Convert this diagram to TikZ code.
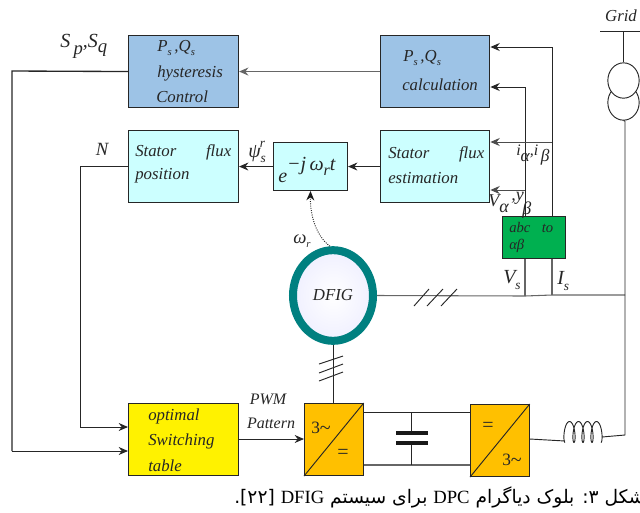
\documentclass[tikz,border=0pt]{standalone}
\usepackage{fontspec}
\setmainfont{Liberation Serif}
\newfontfamily\arabicfont[Script=Arabic]{DejaVu Sans}
\TeXXeTstate=1
\usetikzlibrary{arrows.meta,shapes.geometric}
\definecolor{cblue}{RGB}{157,195,230}
\definecolor{ccyan}{RGB}{204,255,255}
\definecolor{cgreen}{RGB}{0,176,80}
\definecolor{corange}{RGB}{255,192,0}
\definecolor{cteal}{RGB}{0,128,128}
\newcommand{\dn}[1]{\raisebox{-0.45ex}{\footnotesize #1}}
\newcommand{\dnn}[1]{\raisebox{-0.75ex}{\normalsize #1}}
\tikzset{
  bx/.style={draw=black!85,line width=0.8pt,inner sep=0pt,anchor=north west},
  wire/.style={draw=black!85,line width=0.7pt},
  grayw/.style={draw=black!60,line width=1pt},
  arr/.style={wire,-{Stealth[length=7pt,width=6pt]}},
  lb/.style={inner sep=0pt,font=\fontsize{12.6}{14}\selectfont\itshape,text=black!85},
  lbl/.style={lb,anchor=west},
  lbr/.style={lb,anchor=east}
}
\begin{document}
\begin{tikzpicture}[x=0.75pt,y=-0.75pt]
\useasboundingbox (0,0) rectangle (640,512);
\clip (0,0) rectangle (640,512);
% boxes
\node[bx,fill=cblue,minimum width=82.5pt,minimum height=54pt] (hyst) at (128,35) {};
\node[bx,fill=cblue,minimum width=82pt,minimum height=54pt] (calc) at (380,35) {};
\node[bx,fill=ccyan,minimum width=82.5pt,minimum height=54pt] (pos) at (128,130) {};
\node[bx,fill=ccyan,minimum width=82pt,minimum height=54pt] (est) at (380,130) {};
\node[bx,fill=ccyan,minimum width=55.5pt,minimum height=36pt] (expo) at (273,142) {};
\node[bx,fill=cgreen,minimum width=47pt,minimum height=31.5pt] (abc) at (502,216) {};
\node[bx,fill=yellow,minimum width=82.5pt,minimum height=54pt] (tab) at (128,403) {};
\node[bx,fill=corange,minimum width=44pt,minimum height=54pt] (conva) at (304,403) {};
\node[bx,fill=corange,minimum width=44pt,minimum height=54pt] (convb) at (470,404) {};
\draw[wire] (conva.south west) -- (conva.north east);
\draw[wire] (convb.south west) -- (convb.north east);
% grid and transformer
\node[draw=black!85,line width=0.7pt,ellipse,inner sep=0pt,fill=white,minimum width=23.5pt,minimum height=26.5pt] (trb) at (623.5,102.5) {};
\node[draw=black!85,line width=0.7pt,ellipse,inner sep=0pt,fill=white,minimum width=23.5pt,minimum height=26.5pt] (tra) at (623.5,80.5) {};
\coordinate (gl) at (600,31);
\coordinate (gr) at (640,31);
\coordinate (gt) at (623.5,31);
\draw[wire] (gl) -- (gr);
\draw[wire] (gt) -- (tra.north);
% DFIG
\node[draw=cteal,line width=6pt,ellipse,inner sep=0pt,inner color=white,outer color=blue!6,minimum width=60pt,minimum height=68pt] (dfig) at (333,295.5) {};
% named junctions
\coordinate (j1) at (12,71);
\coordinate (j2) at (12,451);
\coordinate (j3) at (80,166);
\coordinate (j4) at (80,427);
\coordinate (vtop) at (525,87);
\coordinate (itop) at (552,47);
\coordinate (vmid) at (525,190);
\coordinate (imid) at (552,142);
\coordinate (vbot) at (525,296);
\coordinate (ibot) at (552,295);
\coordinate (gbot) at (625,295);
\coordinate (lend) at (565,441);
\coordinate (rend) at (602,437);
\coordinate (gcor) at (625,435);
\coordinate (captop) at (411,412);
\coordinate (capbot) at (411,465);
\coordinate (pla) at (411,432.5);
\coordinate (plb) at (411,443);
% connectors
\draw[arr,grayw] (calc) -- (hyst);
\draw[wire,line width=1pt] (hyst.west) -- (j1) -- (j2);
\draw[arr] (j2) -- (tab.west |- j2);
\draw[wire] (pos.west |- j3) -- (j3) -- (j4);
\draw[arr] (j4) -- (tab.west |- j4);
\draw[arr] (expo) -- (pos);
\draw[arr] (est.west |- expo.east) -- (expo);
\draw[arr] (tab.east |- 0,439) -- (conva.west |- 0,439);
\draw[arr] (abc.north -| vtop) -- (vtop) -- (calc.east |- vtop);
\draw[arr] (abc.north -| itop) -- (itop) -- (calc.east |- itop);
\draw[arr,draw=black!70] (imid) -- (est.east |- imid);
\draw[arr,draw=black!70] (vmid) -- (est.east |- vmid);
\draw[grayw] (abc.south -| vbot) -- (vbot);
\draw[grayw] (abc.south -| ibot) -- (ibot);
\draw[grayw,line width=0.8pt] (dfig.east) -- (vbot) -- (ibot) -- (gbot);
\draw[wire] (trb.south) -- (625,121) -- (gbot) -- (gcor) -- (rend);
\draw[wire] (dfig.south) -- (conva.north -| dfig.south);
\draw[wire] (conva.north east |- captop) -- (convb.north west |- captop);
\draw[grayw,line width=0.8pt] (conva.south east |- capbot) -- (convb.south west |- capbot);
\draw[wire] (captop) -- (pla);
\draw[wire] (plb) -- (capbot);
\draw[line width=3pt,black!90] (396,432.5) -- (428,432.5);
\draw[line width=3pt,black!90] (396,443) -- (428,443);
\draw[wire] (convb.east |- 0,439) -- (lend);
% inductor
\draw[wire,smooth] plot[domain=-90:1350,samples=130] ({565+0.025*(\x+90)-3*cos(\x)},{432-10.5*sin(\x)});
% dotted speed line
\draw[densely dotted,black!90,line width=0.7pt,-{Stealth[length=7pt,width=6pt]}] (dfig.north) ++(-3,0) .. controls (316,236) and (310,215) .. (expo.south);
% slashes
\coordinate (sa1) at (414,306); \coordinate (sa2) at (429,289);
\coordinate (sb1) at (427,306); \coordinate (sb2) at (443,289);
\coordinate (sc1) at (441,306); \coordinate (sc2) at (457,289);
\draw[wire] (sa1) -- (sa2) (sb1) -- (sb2) (sc1) -- (sc2);
\coordinate (ta1) at (319,364); \coordinate (ta2) at (343,356);
\coordinate (tb1) at (319,373); \coordinate (tb2) at (343,364);
\coordinate (tc1) at (319,381); \coordinate (tc2) at (343,372);
\draw[wire] (ta1) -- (ta2) (tb1) -- (tb2) (tc1) -- (tc2);
% box texts
\node[lbl] (t1) at (157,48) {P\dn{s}\,,Q\dn{s}};
\node[lbl] (t2) at (157,73) {hysteresis};
\node[lbl] (t3) at (156,97) {Control};
\node[lbl] (t4) at (403,58) {P\dn{s}\,,Q\dn{s}};
\node[lbl] (t5) at (402,85) {calculation};
\node[lbl] (t6) at (135,152) {\makebox[72pt][s]{Stator\hfill flux}};
\node[lbl] (t7) at (135,176) {position};
\node[lbl] (t8) at (388,154) {\makebox[72pt][s]{Stator\hfill flux}};
\node[lbl] (t9) at (388,178) {estimation};
\node[lbl,font=\fontsize{15}{16}\selectfont\itshape] (t10) at (278,170) {\raisebox{-0.5ex}{e}\raisebox{0.75ex}{−j\,ω\raisebox{-0.5ex}{\fontsize{12}{12}\selectfont r}t}};
\node[lb,anchor=west,font=\fontsize{11}{12}\selectfont\itshape] (t11) at (509,227) {\makebox[33pt][s]{abc\hfill to}};
\node[lb,anchor=west,font=\fontsize{11}{12}\selectfont\itshape] (t12) at (509,246) {αβ};
\node[lbl] (t13) at (148,416) {optimal};
\node[lbl] (t14) at (148,441) {Switching};
\node[lbl] (t15) at (148,466) {table};
\node[lb] (t16) at (333,295) {DFIG};
\node[lb,font=\fontsize{12}{14}\selectfont\itshape] (t17) at (268,399) {PWM};
\node[lb,font=\fontsize{12}{14}\selectfont\itshape] (t18) at (271,423) {Pattern};
\node[lb,font=\fontsize{13}{14}\selectfont] (t19) at (321,428) {3\raisebox{-0.1ex}{\fontsize{15}{15}\selectfont\char"7E}};
\node[lb,font=\fontsize{15}{16}\selectfont] (t20) at (343,454) {=};
\node[lb,font=\fontsize{15}{16}\selectfont] (t21) at (488,427) {=};
\node[lb,font=\fontsize{13}{14}\selectfont] (t22) at (512,460) {3\raisebox{-0.1ex}{\fontsize{15}{15}\selectfont\char"7E}};
% outer labels
\node[lb] (t23) at (621,16) {Grid};
\node[lbl,font=\fontsize{15}{15}\selectfont\itshape] (t24) at (60,46) {S\,\raisebox{-0.75ex}{\fontsize{14}{14}\selectfont p},S\raisebox{-0.6ex}{\fontsize{14}{14}\selectfont q}};
\node[lb,font=\fontsize{14}{15}\selectfont\itshape] (t25) at (102,149) {N};
\node[lbl,font=\fontsize{15}{15}\selectfont\itshape] (t26) at (248,152) {ψ\raisebox{-0.6ex}{\fontsize{10}{10}\selectfont s}\kern-0.3em\raisebox{1.1ex}{\fontsize{10}{10}\selectfont r}};
\node[lbl,font=\fontsize{14}{15}\selectfont\itshape] (t27) at (293,241) {ω\dn{r}};
\node[lbl,font=\fontsize{12}{12}\selectfont\itshape] (t28) at (516,155) {i\raisebox{-0.75ex}{\fontsize{13}{13}\selectfont α},i\,\raisebox{-0.75ex}{\fontsize{13}{13}\selectfont β}};
\node[lbl,font=\fontsize{13.5}{14}\selectfont\itshape] (t29) at (488,201) {V};
\node[lbl,font=\fontsize{13.5}{14}\selectfont\itshape] (t30) at (499,208) {α};
\node[lbl,font=\fontsize{13.5}{14}\selectfont\itshape] (t31) at (511,198) {,y};
\node[lbl,font=\fontsize{13.5}{14}\selectfont\itshape] (t32) at (522,210) {β};
\node[lbl,font=\fontsize{15}{15}\selectfont\itshape] (t33) at (503,280) {V\dnn{s}};
\node[lbl,font=\fontsize{15}{15}\selectfont\itshape] (t34) at (557,281) {I\dnn{s}};
% caption
\node[anchor=west,inner sep=0pt,font=\fontsize{14}{15}\selectfont\arabicfont] (cap) at (234,497) {\beginR شکل ۳:  بلوک دیاگرام {\rmfamily DPC} برای سیستم {\rmfamily DFIG} [۲۲].\endR};
\end{tikzpicture}
\end{document}
